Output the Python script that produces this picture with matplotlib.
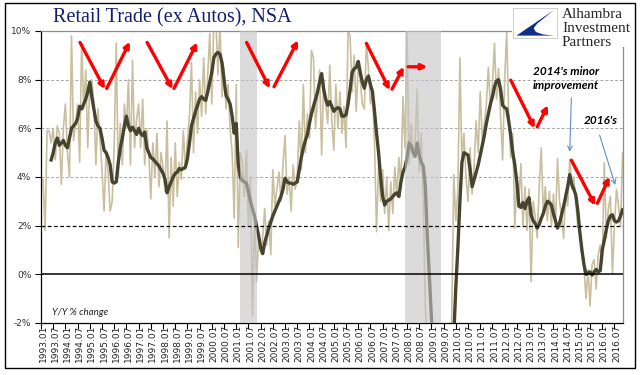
import numpy as np
import matplotlib
matplotlib.use("Agg")
import matplotlib.pyplot as plt
from matplotlib.patches import Rectangle, Polygon

# ---------------- data (monthly, Y/Y % change) ----------------
start_year = 1993
# raw monthly Y/Y series (tan line), Jan 1993 .. Oct 2016
r1993 = [3.9, 1.8, 5.9, 5.9, 5.4, 6.0, 4.7, 6.1, 5.8, 3.7, 6.0, 7.0]
r1994 = [5.0, 4.0, 9.8, 5.5, 6.2, 7.0, 4.6, 9.5, 6.8, 8.4, 5.2, 7.9]
r1995 = [8.0, 7.0, 4.5, 6.8, 5.6, 4.3, 2.6, 5.0, 4.2, 2.6, 3.0, 5.3]
r1996 = [9.5, 4.0, 6.2, 4.5, 7.0, 6.0, 8.0, 4.5, 8.8, 5.2, 6.4, 7.0]
r1997 = [5.2, 7.2, 4.5, 6.0, 5.0, 3.1, 5.4, 4.0, 5.8, 3.6, 5.0, 4.4]
r1998 = [3.4, 6.3, 1.5, 4.8, 2.8, 5.4, 3.2, 4.6, 3.9, 5.9, 4.3, 5.5]
r1999 = [6.5, 8.7, 5.0, 7.5, 5.8, 8.0, 6.5, 8.9, 6.6, 8.2, 9.9, 7.0]
r2000 = [10.4, 10.5, 8.2, 10.3, 7.3, 8.5, 6.8, 7.8, 6.0, 5.0, 2.3, 7.8]
r2001 = [1.1, 5.0, 4.6, 3.2, 5.1, 2.0, 4.0, -1.7, 2.5, -0.3, 1.5, 0.9]
r2002 = [1.5, 2.7, 1.2, 2.2, 0.8, 4.3, 2.8, 3.5, 4.2, 3.0, 4.5, 5.7]
r2003 = [3.3, 4.0, 2.6, 4.5, 3.5, 4.0, 6.3, 4.3, 7.8, 5.0, 6.6, 5.6]
r2004 = [9.2, 8.9, 6.0, 7.2, 8.4, 4.9, 8.0, 7.0, 6.2, 8.6, 6.3, 5.1]
r2005 = [7.8, 6.0, 7.5, 5.8, 6.9, 5.2, 10.0, 9.8, 7.5, 9.0, 6.7, 8.6]
r2006 = [8.0, 7.0, 6.8, 9.5, 8.5, 7.0, 7.5, 5.4, 1.75, 4.5, 3.0, 4.3]
r2007 = [2.5, 4.0, 1.8, 3.8, 2.5, 4.4, 3.2, 4.8, 3.5, 7.3, 5.2, 9.96]
r2008 = [4.5, 6.2, 4.8, 5.5, 7.6, 4.2, 5.8, 3.0, -1.4, -3.0, -6.0, -8.0]
r2009 = [-9.5, -10.5, -10.0, -11.0, -10.5, -9.0, -8.5, -6.0, -4.0, -1.7, 4.1, 2.2]
r2010 = [3.5, 8.9, 4.6, 5.8, 4.0, 3.0, 5.2, 3.3, 4.5, 6.3, 5.0, 7.5]
r2011 = [5.5, 6.2, 7.0, 8.5, 6.8, 7.8, 9.5, 7.2, 8.45, 6.5, 4.7, 8.0]
r2012 = [9.97, 6.5, 4.8, 5.8, 1.9, 4.0, 3.0, 4.55, 2.0, 3.6, 1.8, 3.5]
r2013 = [-0.3, 3.0, 2.4, 1.5, 3.6, 5.2, 2.5, 3.6, 2.2, 3.4, 2.0, 3.3]
r2014 = [2.0, 4.76, 3.0, 2.4, 1.48, 3.4, 2.8, 4.7, 3.5, 4.0, 3.0, 1.9]
r2015 = [1.9, 0.8, 0.3, -1.0, 0.2, -1.3, 0.4, 0.6, -0.6, 0.8, 1.2, 0.5]
r2016 = [4.6, 1.5, 2.7, 3.2, 0.0, 2.0, 3.5, 2.8, 2.0, 5.0]

# smoothed series (dark line), starting May 1993
d1993 = [4.7, 5.0, 5.4, 5.6, 5.3, 5.4, 5.5, 5.3]
d1994 = [5.2, 5.6, 6.0, 6.1, 6.2, 6.4, 6.9, 6.8, 7.0, 7.2, 7.5, 7.9]
d1995 = [7.3, 6.8, 6.3, 6.1, 6.0, 5.6, 5.1, 5.0, 4.8, 4.5, 3.8, 3.75]
d1996 = [3.8, 4.6, 5.2, 5.6, 6.1, 6.5, 6.1, 5.9, 6.05, 5.9, 5.75, 6.0]
d1997 = [5.8, 5.7, 5.85, 5.2, 5.0, 4.8, 4.75, 4.65, 4.55, 4.45, 4.3, 4.15]
d1998 = [3.9, 3.35, 3.6, 3.8, 4.0, 4.15, 4.2, 4.35, 4.3, 4.35, 4.4, 4.75]
d1999 = [5.4, 6.1, 6.4, 6.7, 6.95, 7.2, 7.3, 7.2, 7.15, 7.5, 7.9, 8.3]
d2000 = [8.9, 9.05, 9.12, 9.05, 8.7, 8.0, 7.35, 7.2, 7.0, 6.5, 5.8, 6.2]
d2001 = [4.5, 4.0, 3.85, 3.8, 3.75, 3.4, 3.0, 2.7, 2.4, 2.0, 1.6, 1.1]
d2002 = [0.85, 1.3, 1.6, 1.9, 2.15, 2.4, 2.6, 2.8, 3.0, 3.2, 3.5, 3.95]
d2003 = [3.8, 3.75, 3.75, 3.7, 3.75, 3.8, 4.3, 4.8, 5.2, 5.5, 5.75, 6.2]
d2004 = [6.6, 6.9, 7.2, 7.5, 7.9, 8.25, 7.6, 7.2, 6.95, 7.1, 6.9, 6.7]
d2005 = [6.8, 6.85, 6.8, 6.5, 6.5, 6.55, 7.0, 7.6, 8.3, 8.45, 8.5, 8.75]
d2006 = [8.3, 7.9, 7.65, 8.0, 8.15, 7.8, 7.5, 6.7, 5.8, 5.0, 4.0, 3.2]
d2007 = [2.85, 3.0, 3.05, 3.1, 3.2, 3.3, 3.35, 3.2, 3.8, 4.2, 4.4, 4.8]
d2008 = [5.4, 5.3, 5.0, 4.85, 5.4, 4.9, 4.6, 4.45, 3.6, 1.5, -0.1, -1.8]
d2009 = [-3.5, -5.5, -7.5, -9.0, -10.0, -10.5, -10.0, -8.5, -6.5, -4.5, -2.5, -0.5]
d2010 = [1.1, 3.0, 4.6, 5.0, 4.95, 4.9, 4.3, 3.6, 3.9, 4.2, 4.5, 4.9]
d2011 = [5.3, 5.7, 6.2, 6.6, 7.0, 7.3, 7.7, 7.95, 8.0, 7.6, 6.95, 6.85]
d2012 = [6.8, 6.3, 5.7, 5.0, 4.5, 3.8, 2.8, 2.75, 2.95, 2.7, 3.0, 3.15]
d2013 = [2.45, 2.2, 2.1, 1.9, 2.05, 2.3, 2.5, 2.8, 3.0, 2.95, 2.85, 2.5]
d2014 = [2.2, 1.9, 2.1, 2.45, 2.8, 3.2, 3.6, 4.1, 3.7, 3.5, 3.25, 2.6]
d2015 = [1.7, 1.0, 0.4, 0.0, 0.05, 0.1, -0.03, 0.1, 0.2, 0.1, 0.15, 1.0]
d2016 = [1.4, 1.85, 2.2, 2.4, 2.45, 2.2, 2.15, 2.2, 2.4, 2.65]
dark_start_month = 4  # May 1993

# recessions (month index start, end)
recessions = [(97.0, 105.2), (177.9, 195.6)]

# red trend arrows (x0, y0, x1, y1) in (month index, %)
red_arrows = [
    (18.2, 9.53, 30.4, 7.61), (31.3, 7.64, 42.7, 9.56),
    (51.2, 9.53, 63.7, 7.61), (64.4, 7.64, 75.8, 9.53),
    (100.1, 9.53, 111.5, 7.64), (113.6, 7.71, 125.4, 9.62),
    (159.0, 9.49, 170.5, 7.57), (171.6, 7.61, 177.4, 8.53),
    (179.5, 8.53, 189.0, 8.53),
    (230.0, 7.98, 241.8, 6.00), (243.0, 6.06, 248.3, 6.95),
    (259.8, 4.69, 271.6, 2.82), (272.6, 2.92, 278.6, 4.01),
]
blue_arrows = [(259.8, 7.25, 259.0, 5.04), (273.7, 5.72, 281.4, 3.67)]

# ---------------- assemble ----------------
raw = (r1993 + r1994 + r1995 + r1996 + r1997 + r1998 + r1999 + r2000 + r2001 +
       r2002 + r2003 + r2004 + r2005 + r2006 + r2007 + r2008 + r2009 + r2010 +
       r2011 + r2012 + r2013 + r2014 + r2015 + r2016)
dark = (d1993 + d1994 + d1995 + d1996 + d1997 + d1998 + d1999 + d2000 + d2001 +
        d2002 + d2003 + d2004 + d2005 + d2006 + d2007 + d2008 + d2009 + d2010 +
        d2011 + d2012 + d2013 + d2014 + d2015 + d2016)
x_raw = np.arange(len(raw))
x_dark = np.arange(dark_start_month, dark_start_month + len(dark))

tick_idx = np.arange(0, 283, 6)
tick_labels = [f"{start_year + i // 12}.{(i % 12) + 1:02d}" for i in tick_idx]

W, H = 641, 375
fig = plt.figure(figsize=(W / 100, H / 100), dpi=100)
ax = fig.add_axes([41 / W, 1 - 323 / H, 582 / W, 292 / H])

ax.plot(x_raw, raw, color="#C9BF9E", lw=1.2, zorder=2)
ax.plot(x_dark, dark, color="#46432F", lw=2.4, zorder=3, solid_joinstyle="round")
for s, e in recessions:
    ax.axvspan(s, e, color="#C4C4C4", alpha=0.6, lw=0, zorder=4)

ax.set_xlim(-1, 285.2)
ax.set_ylim(-2, 10)

for v in [4, 6, 8]:
    ax.axhline(v, color="#A6A6A6", lw=0.7, ls=(0, (3, 2)), zorder=1)
ax.axhline(2, color="black", lw=0.9, ls=(0, (3, 2)), zorder=5)
ax.axhline(0, color="black", lw=1.1, zorder=5)

ax.set_yticks([-2, 0, 2, 4, 6, 8, 10])
ax.set_yticklabels([f"{v}%" for v in [-2, 0, 2, 4, 6, 8, 10]])
ax.tick_params(axis="y", direction="out", length=4, width=0.8, pad=3,
               labelsize=6.5, labelcolor="#333333")
ax.set_xticks(tick_idx - 1)
ax.set_xticklabels([])
ax.set_xticks(tick_idx, minor=True)
ax.set_xticklabels(tick_labels, minor=True, rotation=90, fontsize=6.5,
                   color="#222222")
ax.tick_params(axis="x", which="major", direction="out", length=4, width=0.8)
ax.tick_params(axis="x", which="minor", length=0, pad=1.5)

ax.spines["left"].set_color("black")
ax.spines["bottom"].set_color("black")
ax.spines["top"].set_color("#8C8C8C")
ax.spines["right"].set_color("#8C8C8C")
for sp in ax.spines.values():
    sp.set_linewidth(0.9)

for x0, y0, x1, y1 in red_arrows:
    ax.annotate("", xy=(x1, y1), xytext=(x0, y0),
                arrowprops=dict(arrowstyle="-|>", color="#FF0000", lw=2.4,
                                mutation_scale=8, shrinkA=0, shrinkB=0),
                zorder=6)
for x0, y0, x1, y1 in blue_arrows:
    ax.annotate("", xy=(x1, y1), xytext=(x0, y0),
                arrowprops=dict(arrowstyle="->", color="#5B8FD0", lw=0.8,
                                mutation_scale=8, shrinkA=0, shrinkB=0),
                zorder=6)

ax.text(257.3, 8.05, "2014's minor\nimprovement", ha="center", va="center",
        fontsize=8.5, fontweight="bold", fontstyle="italic", family="Lato",
        linespacing=1.35, zorder=7)
ax.text(274.5, 6.32, "2016's", ha="center", va="center", fontsize=8.5,
        fontweight="bold", fontstyle="italic", family="Lato", zorder=7)
ax.text(4.5, -1.55, "Y/Y % change", ha="left", va="center", fontsize=7,
        fontstyle="italic", family="Lato", color="#222222", zorder=7)

# title
fig.text(53 / W, 1 - 18 / H, "Retail Trade (ex Autos), NSA", ha="left",
         va="center", fontsize=14.5, family="Liberation Serif", color="#141E6E")

# logo area
fig.patches.append(Rectangle((512 / W, 1 - 47 / H), 122 / W, 44 / H,
                             transform=fig.transFigure, facecolor="white",
                             edgecolor="none", zorder=5))
lax = fig.add_axes([513 / W, 1 - 38 / H, 44 / W, 30 / H], zorder=10)
lax.set_xlim(0, 1)
lax.set_ylim(0, 1)
lax.set_xticks([])
lax.set_yticks([])
for sp in lax.spines.values():
    sp.set_color("#C8C8C8")
    sp.set_linewidth(0.6)
logo_shape = [(0.08, 0.08), (0.93, 0.93), (0.72, 0.68), (0.55, 0.48),
              (0.47, 0.33), (0.52, 0.2), (0.68, 0.12), (0.93, 0.08)]
lax.add_patch(Polygon(logo_shape, closed=True, facecolor="#102C8C",
                      edgecolor="none"))
for i, word in enumerate(["Alhambra", "Investment", "Partners"]):
    fig.text(562 / W, 1 - (15 + 13.5 * i) / H, word, ha="left", va="center",
             fontsize=11, family="Liberation Serif", color="#262626",
             zorder=11)

# outer frame
fig.patches.append(Rectangle((5 / W, 1 - 368 / H), 630 / W, 365 / H,
                             transform=fig.transFigure, fill=False,
                             edgecolor="black", lw=1.0, zorder=20))

fig.savefig("out.png", dpi=100)
